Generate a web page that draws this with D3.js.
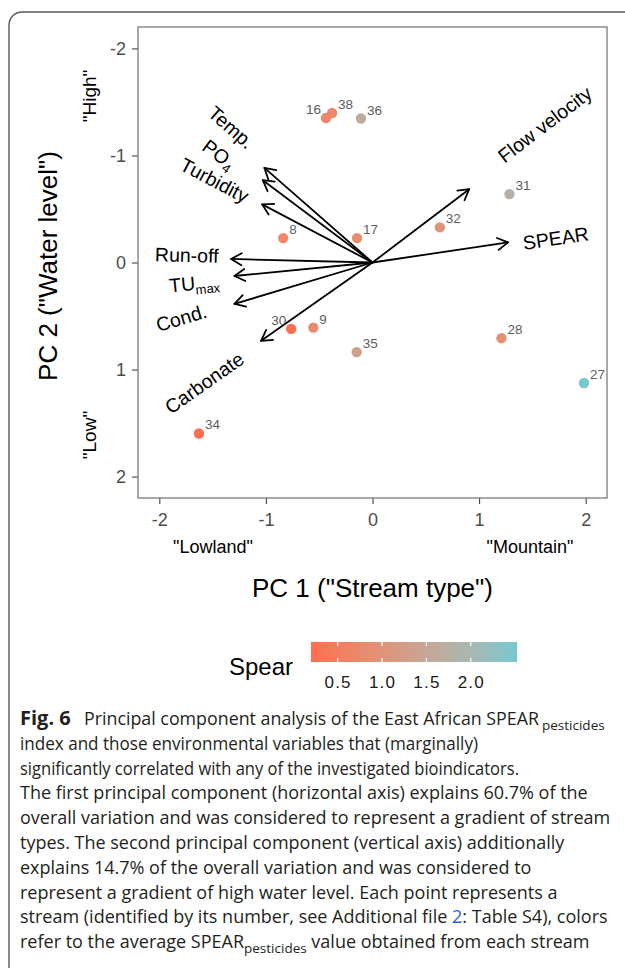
<!DOCTYPE html>
<html><head><meta charset="utf-8">
<script src="https://cdn.jsdelivr.net/npm/d3@7"></script>
<style>body{margin:0;background:#fff} svg{display:block}</style>
</head><body>
<svg id="c" width="625" height="968"></svg>
<script>
// ---------------- data ----------------
const streams = ["16","36","8","17","31","32","30","9","35","34","28","27","38"];
const pc1     = [-0.436,-0.108,-0.838,-0.145,1.285,0.632,-0.763,-0.555,-0.148,-1.628,1.210,1.984,-0.379];
const pc2     = [-1.350,-1.345,-0.228,-0.228,-0.639,-0.328,0.620,0.608,0.837,1.597,0.707,1.126,-1.397];
const spear   = [0.70,1.65,0.75,0.85,1.75,1.05,0.22,0.85,1.35,0.20,0.95,2.52,0.72];

const variables = ["Temp.","PO","Turbidity","Run-off","TU","Cond.","Carbonate","Flow velocity","SPEAR"];
const varSubs   = ["","4","","","max","","","",""];
const loadPC1   = [-1.014,-1.029,-1.035,-1.326,-1.295,-1.295,-1.045,0.907,1.272];
const loadPC2   = [-0.884,-0.769,-0.543,-0.033,0.126,0.387,0.732,-0.685,-0.188];

const axisTicks   = [-2,-1,0,1,2];
const legendTicks = [0.5,1.0,1.5,2.0];
const spearLimits = [0.20,2.52];

const captionHead = ["Fig. 6","Principal component analysis of the East African SPEAR","pesticides"];
const captionLines = [
 [["index and those environmental variables that (marginally)",""]],
 [["significantly correlated with any of the investigated bioindicators.",""]],
 [["The first principal component (horizontal axis) explains 60.7% of the",""]],
 [["overall variation and was considered to represent a gradient of stream",""]],
 [["types. The second principal component (vertical axis) additionally",""]],
 [["explains 14.7% of the overall variation and was considered to",""]],
 [["represent a gradient of high water level. Each point represents a",""]],
 [["stream (identified by its number, see Additional file ",""],["2","link"],[": Table S4), colors",""]],
 [["refer to the average SPEAR",""],["pesticides","sub"],[" value obtained from each stream",""]]
];

// ---------------- layout ----------------
const labelLeft = new Set(["16","30"]);
const varLabelPos = [[-1.325,-1.263],[-1.438,-1.011],[-1.482,-0.769],[-1.742,-0.070],[-1.672,0.191],
                     [-1.794,0.517],[-1.578,1.123],[1.616,-1.291],[1.719,-0.228]];
const captionHeadX = [20,84,539,542];
const captionLineEnds = [478,519,null,null,null,null,null,null,null];
const P = {left:138, right:607, top:27, bottom:498};

const svg = d3.select("#c");
const font = "Liberation Sans, Arial, Helvetica, sans-serif";

// outer frame
svg.append("rect").attr("x",9).attr("y",12).attr("width",640).attr("height",975)
  .attr("rx",13).attr("fill","none").attr("stroke","#5a5a5a").attr("stroke-width",1.4);

const x = d3.scaleLinear().domain([-2.2,2.2]).range([P.left,P.right]);
const y = d3.scaleLinear().domain([-2.2,2.2]).range([P.top,P.bottom]);
const col = d3.scaleLinear().domain(spearLimits).range(["#FF6E4E","#76C8D0"]).interpolate(d3.interpolateLab);

// axes
const gx = svg.append("g").attr("transform",`translate(0,${P.bottom})`)
  .call(d3.axisBottom(x).tickValues(axisTicks).tickSize(6).tickPadding(9).tickFormat(d3.format("d")));
const gy = svg.append("g").attr("transform",`translate(${P.left},0)`)
  .call(d3.axisLeft(y).tickValues(axisTicks).tickSize(6).tickPadding(6).tickFormat(d3.format("d")));
[gx,gy].forEach(g=>{
  g.select(".domain").remove();
  g.selectAll(".tick line").attr("stroke","#444").attr("stroke-width",1.1);
  g.selectAll(".tick text").attr("fill","#4d4d4d").style("font-family",font).style("font-size","18px");
});
gx.selectAll(".tick text").text(d=>d<0?"-"+Math.abs(d):d);
gy.selectAll(".tick text").text(d=>d<0?"-"+Math.abs(d):d);

// panel border
svg.append("rect").attr("x",P.left).attr("y",P.top).attr("width",P.right-P.left).attr("height",P.bottom-P.top)
  .attr("fill","none").attr("stroke","#6e6e6e").attr("stroke-width",1.2);

// arrows
const ox = x(0), oy = y(0);
const ag = svg.append("g").attr("stroke","#000").attr("stroke-width",1.8).attr("fill","none")
  .attr("stroke-linecap","round").attr("stroke-linejoin","round");
variables.forEach((v,i)=>{
  const tx = x(loadPC1[i]), ty = y(loadPC2[i]);
  ag.append("line").attr("x1",ox).attr("y1",oy).attr("x2",tx).attr("y2",ty);
  const a = Math.atan2(ty-oy, tx-ox), L = 12, h = Math.PI/6;
  ag.append("path").attr("d",
    `M${tx-L*Math.cos(a-h)},${ty-L*Math.sin(a-h)}L${tx},${ty}L${tx-L*Math.cos(a+h)},${ty-L*Math.sin(a+h)}`);
});

// variable labels
variables.forEach((v,i)=>{
  const tx = x(loadPC1[i]), ty = y(loadPC2[i]);
  let ang = Math.atan2(ty-oy, tx-ox)*180/Math.PI;
  if (tx-ox < 0) ang += 180;
  if (ang > 180) ang -= 360;
  const cx = x(varLabelPos[i][0]), cy = y(varLabelPos[i][1]);
  const t = svg.append("text").attr("transform",`translate(${cx},${cy}) rotate(${ang})`)
    .attr("text-anchor","middle").attr("dy","0.36em")
    .style("font-family",font).style("font-size","19.5px").attr("fill","#000");
  t.append("tspan").text(v);
  if (varSubs[i]) t.append("tspan").attr("dy","0.35em").style("font-size","13px").text(varSubs[i]);
});

// points
const pts = streams.map((s,i)=>({s, x:pc1[i], y:pc2[i], v:spear[i]}));
svg.append("g").selectAll("circle").data(pts).join("circle")
  .attr("cx",d=>x(d.x)).attr("cy",d=>y(d.y)).attr("r",5.2).attr("fill",d=>col(d.v));
svg.append("g").selectAll("text").data(pts).join("text")
  .attr("x",d=>x(d.x)+(labelLeft.has(d.s)?-5:6)).attr("y",d=>y(d.y)-4)
  .attr("text-anchor",d=>labelLeft.has(d.s)?"end":"start")
  .style("font-family",font).style("font-size","13.5px").attr("fill","#5e5e5e").text(d=>d.s);

// axis titles & annotations
const txt = (xx,yy,s,size,opts={})=>{
  const t = svg.append("text").attr("x",xx).attr("y",yy).text(s)
    .style("font-family",opts.font||font).style("font-size",size+"px").attr("fill",opts.fill||"#000")
    .attr("text-anchor",opts.anchor||"middle");
  if (opts.rot) t.attr("transform",`rotate(${opts.rot},${xx},${yy})`);
  if (opts.ls) t.style("letter-spacing",opts.ls+"px");
  return t;
};
txt((P.left+P.right)/2, 597, 'PC 1 ("Stream type")', 26);
txt(57, 266, 'PC 2 ("Water level")', 26, {rot:-90});
txt(96, 96, '"High"', 19, {rot:-90});
txt(96, 435, '"Low"', 19, {rot:-90});
txt(213, 553, '"Lowland"', 18);
txt(530, 553, '"Mountain"', 18);

// legend
const lx = d3.scaleLinear().domain(spearLimits).range([311,517]);
const defs = svg.append("defs");
const grad = defs.append("linearGradient").attr("id","g1");
d3.range(0,1.0001,0.05).forEach(f=>{
  grad.append("stop").attr("offset",f).attr("stop-color",col(spearLimits[0]+f*(spearLimits[1]-spearLimits[0])));
});
svg.append("rect").attr("x",lx.range()[0]).attr("y",642).attr("width",lx.range()[1]-lx.range()[0]).attr("height",20)
  .attr("fill","url(#g1)");
legendTicks.forEach(t=>{
  svg.append("line").attr("x1",lx(t)).attr("x2",lx(t)).attr("y1",642).attr("y2",646).attr("stroke","#fff").attr("stroke-width",1.2);
  svg.append("line").attr("x1",lx(t)).attr("x2",lx(t)).attr("y1",658).attr("y2",662).attr("stroke","#fff").attr("stroke-width",1.2);
  txt(lx(t)+0.5, 688, d3.format(".1f")(t), 17, {fill:"#1a1a1a", ls:1.2});
});
txt(229, 675, "Spear", 24, {anchor:"start"});

// caption
const capFont = "'Open Sans', 'Noto Sans', sans-serif";
const fs = 18, cy0 = 725, lh = 24.8, subFs = 13.5, subDy = 5;
const capColor = "#231f20";
// head line
txt(captionHeadX[0], cy0, captionHead[0], 20, {anchor:"start", font:capFont, fill:capColor}).style("font-weight","bold");
txt(captionHeadX[1], cy0, captionHead[1], fs, {anchor:"start", font:capFont, fill:capColor})
  .attr("textLength", captionHeadX[2]-captionHeadX[1]).attr("lengthAdjust","spacingAndGlyphs");
txt(captionHeadX[3], cy0+subDy, captionHead[2], subFs, {anchor:"start", font:capFont, fill:capColor});
// body lines
captionLines.forEach((line,li)=>{
  const t = svg.append("text").attr("x",20).attr("y",cy0+(li+1)*lh)
    .style("font-family",capFont).style("font-size",fs+"px").attr("fill",capColor);
  if (captionLineEnds[li]) t.attr("textLength",captionLineEnds[li]-20).attr("lengthAdjust","spacingAndGlyphs");
  let prevSub = false;
  line.forEach(([s,k])=>{
    const sp = t.append("tspan").text(s);
    if (k==="link") sp.attr("fill","#2b63d9");
    if (k==="sub"){ sp.attr("dy",subDy).style("font-size",subFs+"px"); prevSub=true; }
    else if (prevSub){ sp.attr("dy",-subDy); prevSub=false; }
  });
});
</script>
</body></html>
